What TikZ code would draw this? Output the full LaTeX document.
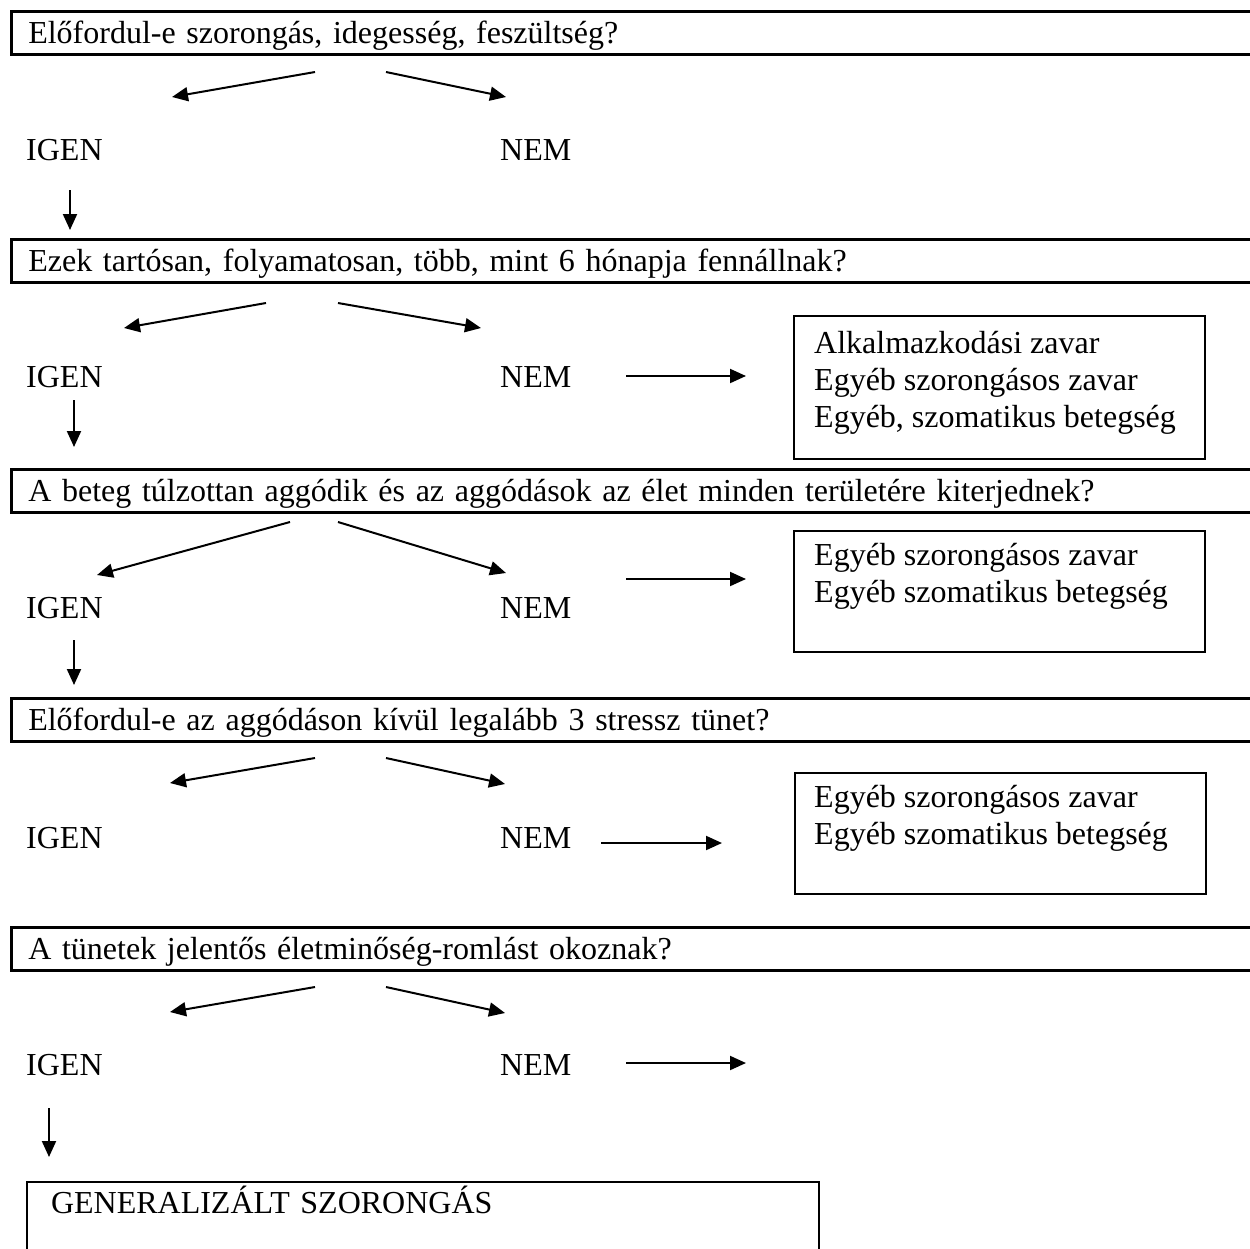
\documentclass[tikz,border=0pt]{standalone}
\usepackage{fontspec}
\setmainfont{Liberation Serif}
\usetikzlibrary{arrows.meta}
\begin{document}
\begin{tikzpicture}[x=1pt,y=-1pt,
  font=\fontsize{32}{37}\selectfont,
  qbar/.style={draw, line width=2.6pt, anchor=north west, minimum height=43pt,
    text width=1250pt, align=left, inner xsep=17pt, inner ysep=0pt,
    text height=21pt, text depth=0pt},
  answer/.style={anchor=west, inner sep=0pt, text height=21pt, text depth=0pt},
  outbox/.style={draw, line width=1.5pt, anchor=north west, inner sep=0pt,
    minimum width=411pt},
  outtext/.style={anchor=north west, inner sep=0pt, align=left},
  flow/.style={line width=2pt, -{Triangle[length=16pt,width=14pt]}}
]
\useasboundingbox (0,0) rectangle (1250,1248);
\clip (0,0) rectangle (1250,1248);

% question bars
\node[qbar] (q1) at (10,10)  {Előfordul-e szorongás, idegesség, feszültség?};
\node[qbar] (q2) at (10,238) {Ezek tartósan, folyamatosan, több, mint 6 hónapja fennállnak?};
\node[qbar] (q3) at (10,468) {A beteg túlzottan aggódik és az aggódások az élet minden területére kiterjednek?};
\node[qbar] (q4) at (10,697) {Előfordul-e az aggódáson kívül legalább 3 stressz tünet?};
\node[qbar] (q5) at (10,926) {A tünetek jelentős életminőség-romlást okoznak?};

% answers
\node[answer] (y1) at (26,150)  {IGEN};  \node[answer] (n1) at (500,150)  {NEM};
\node[answer] (y2) at (26,377)  {IGEN};  \node[answer] (n2) at (500,377)  {NEM};
\node[answer] (y3) at (26,608)  {IGEN};  \node[answer] (n3) at (500,608)  {NEM};
\node[answer] (y4) at (26,838)  {IGEN};  \node[answer] (n4) at (500,838)  {NEM};
\node[answer] (y5) at (26,1065) {IGEN};  \node[answer] (n5) at (500,1065) {NEM};

% outcome boxes
\node[outbox, minimum height=143pt] (b1) at (793,315) {};
\node[outtext] (t1) at (814,331) {Alkalmazkodási zavar\\Egyéb szorongásos zavar\\Egyéb, szomatikus betegség};
\node[outbox, minimum height=121pt] (b2) at (793,530) {};
\node[outtext] (t2) at (814,543) {Egyéb szorongásos zavar\\Egyéb szomatikus betegség};
\node[outbox, minimum height=121pt] (b3) at (794,772) {};
\node[outtext] (t3) at (814,785) {Egyéb szorongásos zavar\\Egyéb szomatikus betegség};

% final diagnosis box, running past the lower edge
\node[draw, line width=2pt, anchor=north west, text width=744pt, align=left,
  inner xsep=24pt, inner ysep=10pt, text height=21pt, text depth=90pt] (gsz) at (26,1181)
  {GENERALIZÁLT SZORONGÁS};

% branch arrow end points
\coordinate (a1s) at (315,72);  \coordinate (a1l) at (172,97);
\coordinate (a1t) at (386,72);  \coordinate (a1r) at (506,97);
\coordinate (a2s) at (266,303); \coordinate (a2l) at (124,328);
\coordinate (a2t) at (338,303); \coordinate (a2r) at (481,328);
\coordinate (a3s) at (290,522); \coordinate (a3l) at (97,575);
\coordinate (a3t) at (338,522); \coordinate (a3r) at (506,573);
\coordinate (a4s) at (315,758); \coordinate (a4l) at (170,783);
\coordinate (a4t) at (386,758); \coordinate (a4r) at (505,784);
\coordinate (a5s) at (315,987); \coordinate (a5l) at (170,1012);
\coordinate (a5t) at (386,987); \coordinate (a5r) at (505,1013);

\foreach \i in {1,...,5} {
  \draw[flow] (a\i s) -- (a\i l);
  \draw[flow] (a\i t) -- (a\i r);
}

% NEM -> outcome arrows
\coordinate (h2s) at (626,376);  \coordinate (h2e) at (746,376);
\coordinate (h3s) at (626,579);  \coordinate (h3e) at (746,579);
\coordinate (h4s) at (601,843);  \coordinate (h4e) at (722,843);
\coordinate (h5s) at (626,1063); \coordinate (h5e) at (746,1063);
\foreach \i in {2,...,5} { \draw[flow] (h\i s) -- (h\i e); }

% IGEN -> next step arrows
\coordinate (d1s) at (70,190);  \coordinate (d1e) at (70,230);
\coordinate (d2s) at (74,400);  \coordinate (d2e) at (74,447);
\coordinate (d3s) at (74,640);  \coordinate (d3e) at (74,685);
\coordinate (d5s) at (49,1108); \coordinate (d5e) at (49,1157);
\foreach \i in {1,2,3,5} { \draw[flow] (d\i s) -- (d\i e); }
\end{tikzpicture}
\end{document}
